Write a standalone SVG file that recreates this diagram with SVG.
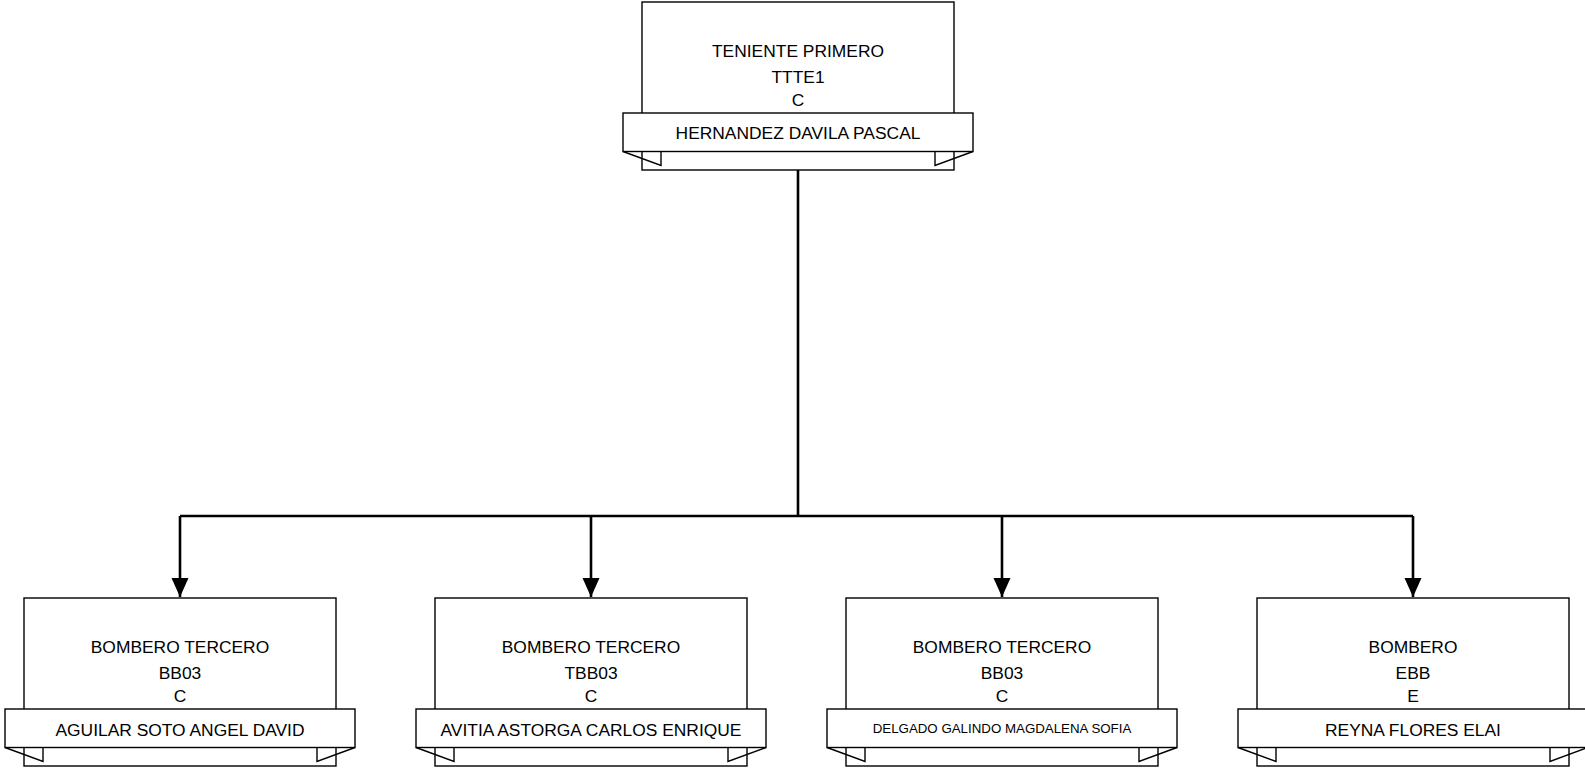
<svg xmlns="http://www.w3.org/2000/svg" width="1585" height="768" viewBox="0 0 1585 768">
<style>
.box{fill:#fff;stroke:#000;stroke-width:1.4}
.rib{fill:#fff;stroke:#000;stroke-width:1.4}
.tail{fill:none;stroke:#000;stroke-width:1.4;stroke-linejoin:miter}
.t{font-family:"Liberation Sans",Arial,sans-serif;font-size:17.4px;fill:#000;text-anchor:middle}
.s{font-size:13.3px}
.con{fill:none;stroke:#000;stroke-width:2.6}
</style>
<defs>
<marker id="arr" markerUnits="userSpaceOnUse" markerWidth="18" markerHeight="20" viewBox="0 0 18 20" refX="9" refY="19" orient="0">
<path d="M0.5 0 L17.5 0 L9 19 Z" fill="#000"/>
</marker>
</defs>
<g id="connectors">
<path class="con" d="M798 170 V516"/>
<path class="con" d="M180 516 H1413"/>
<path class="con" d="M180 516 V597" marker-end="url(#arr)"/>
<path class="con" d="M591 516 V597" marker-end="url(#arr)"/>
<path class="con" d="M1002 516 V597" marker-end="url(#arr)"/>
<path class="con" d="M1413 516 V597" marker-end="url(#arr)"/>
</g>
<g id="node-top">
<rect class="box" x="642" y="2" width="312" height="168"/>
<path class="tail" d="M623 151.5 L661 165.5 V151.5 M973 151.5 L935 165.5 V151.5"/>
<rect class="rib" x="623" y="113" width="350" height="38.5"/>
<text class="t" x="798" y="57">TENIENTE PRIMERO</text>
<text class="t" x="798" y="82.5">TTTE1</text>
<text class="t" x="798" y="106">C</text>
<text class="t" x="798" y="139">HERNANDEZ DAVILA PASCAL</text>
</g>
<g id="node-1">
<rect class="box" x="24" y="598" width="312" height="168"/>
<path class="tail" d="M5 747.5 L43 761.5 V747.5 M355 747.5 L317 761.5 V747.5"/>
<rect class="rib" x="5" y="709" width="350" height="38.5"/>
<text class="t" x="180" y="653">BOMBERO TERCERO</text>
<text class="t" x="180" y="678.5">BB03</text>
<text class="t" x="180" y="702">C</text>
<text class="t" x="180" y="735.5">AGUILAR SOTO ANGEL DAVID</text>
</g>
<g id="node-2">
<rect class="box" x="435" y="598" width="312" height="168"/>
<path class="tail" d="M416 747.5 L454 761.5 V747.5 M766 747.5 L728 761.5 V747.5"/>
<rect class="rib" x="416" y="709" width="350" height="38.5"/>
<text class="t" x="591" y="653">BOMBERO TERCERO</text>
<text class="t" x="591" y="678.5">TBB03</text>
<text class="t" x="591" y="702">C</text>
<text class="t" x="591" y="735.5">AVITIA ASTORGA CARLOS ENRIQUE</text>
</g>
<g id="node-3">
<rect class="box" x="846" y="598" width="312" height="168"/>
<path class="tail" d="M827 747.5 L865 761.5 V747.5 M1177 747.5 L1139 761.5 V747.5"/>
<rect class="rib" x="827" y="709" width="350" height="38.5"/>
<text class="t" x="1002" y="653">BOMBERO TERCERO</text>
<text class="t" x="1002" y="678.5">BB03</text>
<text class="t" x="1002" y="702">C</text>
<text class="t s" x="1002" y="733">DELGADO GALINDO MAGDALENA SOFIA</text>
</g>
<g id="node-4">
<rect class="box" x="1257" y="598" width="312" height="168"/>
<path class="tail" d="M1238 747.5 L1276 761.5 V747.5 M1588 747.5 L1550 761.5 V747.5"/>
<rect class="rib" x="1238" y="709" width="350" height="38.5"/>
<text class="t" x="1413" y="653">BOMBERO</text>
<text class="t" x="1413" y="678.5">EBB</text>
<text class="t" x="1413" y="702">E</text>
<text class="t" x="1413" y="735.5">REYNA FLORES ELAI</text>
</g>
</svg>
